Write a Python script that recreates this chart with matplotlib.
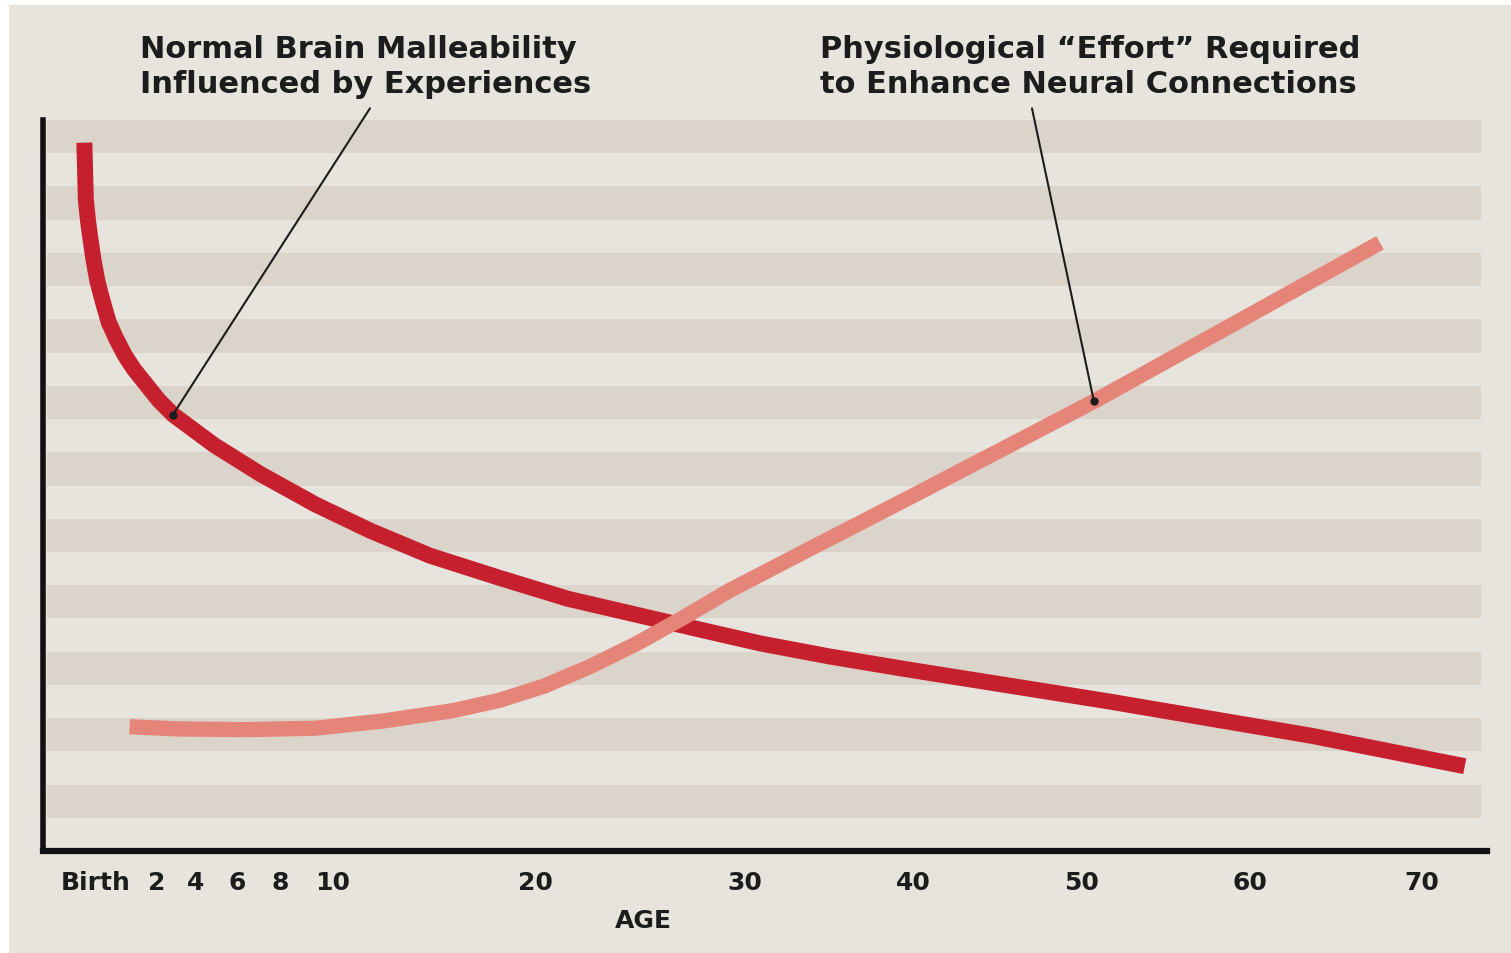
import numpy as np
import matplotlib
matplotlib.use("Agg")
import matplotlib.pyplot as plt
import matplotlib.transforms as mtransforms
from matplotlib.patches import Rectangle

# values (age in years, level on a 0-100 scale)
malleability_age = [0.01, 0.05, 0.115, 0.18, 0.266, 0.37, 0.518, 0.68, 0.88, 1.12, 1.37,
                    2.08, 2.82, 4.9, 7.07, 9.34, 11.86, 14.8, 18.2, 21.57, 24.86,
                    28.14, 30.9, 35.06, 39.5, 51.5, 63.6, 72.5]
malleability_val = [96.9, 89.1, 86.0, 83.6, 80.7, 77.9, 75.1, 72.3, 70.1, 67.8, 65.9,
                    61.7, 59.7, 55.5, 51.6, 47.4, 43.8, 40.4, 37.4, 34.5, 32.3,
                    30.1, 28.4, 26.6, 24.9, 20.5, 15.75, 11.6]

effort_age = [1.25, 3.06, 6.45, 9.34, 12.52, 15.94, 18.22, 20.48, 22.67, 24.86,
              27.05, 29.24, 34.46, 40.0, 50.71, 67.56]
effort_val = [17.0, 16.7, 16.6, 16.8, 17.8, 19.2, 20.6, 22.6, 25.3, 28.4,
              31.9, 35.6, 42.05, 48.6, 61.5, 83.2]

tick_ages = [0, 2, 4, 6, 8, 10, 20, 30, 40, 50, 60, 70]
tick_labels = ["Birth", "2", "4", "6", "8", "10", "20", "30", "40", "50", "60", "70"]

label_left = "Normal Brain Malleability\nInfluenced by Experiences"
label_right = "Physiological \u201cEffort\u201d Required\nto Enhance Neural Connections"

# the age axis of the original is stretched unevenly: piecewise linear scale
scale_ages = [-2.5, 0, 2, 4, 6, 8, 10, 20, 30, 40, 50, 60, 70, 73.8]
scale_pos = [43, 84, 157, 196, 237, 280, 333, 535, 745, 913, 1082, 1250, 1422, 1487]


def fwd(x):
    return np.interp(x, scale_ages, scale_pos)


def inv(p):
    return np.interp(p, scale_pos, scale_ages)


bg = "#e7e4de"
stripe = "#dbd4cb"
red = "#c61f2e"
pink = "#e5857a"
ink = "#1c1c1c"

W, H = 1511, 954
fig = plt.figure(figsize=(W / 100, H / 100), dpi=100, facecolor="white")
fig.patches.append(Rectangle((9 / W, 0), 1 - 9 / W, 1 - 6 / H, transform=fig.transFigure,
                             facecolor=bg, edgecolor="none", zorder=-10))

ax = fig.add_axes([43 / W, (H - 852) / H, (1487 - 43) / W, (852 - 121) / H])
ax.set_facecolor("none")
ax.set_xscale("function", functions=(fwd, inv))
ax.set_xlim(-2.5, 73.8)
ax.set_ylim(0, 100)

# horizontal bands
edges = np.linspace(0, 100, 23)
for k in range(1, 22, 2):
    ax.axhspan(edges[k], edges[k + 1], xmin=0.003, xmax=0.996, color=stripe, lw=0, zorder=0)

ax.plot(malleability_age, malleability_val, color=red, lw=11.5,
        solid_capstyle="butt", solid_joinstyle="round", zorder=2)
ax.plot(effort_age, effort_val, color=pink, lw=11,
        solid_capstyle="butt", solid_joinstyle="round", zorder=3)

# leader lines with dots
ax.annotate("", xy=(malleability_age[12], malleability_val[12]), xytext=(11.83, 101.6),
            arrowprops=dict(arrowstyle="-", lw=1.5, color=ink, shrinkA=0, shrinkB=0),
            annotation_clip=False, zorder=4)
ax.plot(malleability_age[12], malleability_val[12], "o", ms=5, color=ink, zorder=5)
ax.annotate("", xy=(effort_age[14], effort_val[14]), xytext=(47.04, 101.6),
            arrowprops=dict(arrowstyle="-", lw=1.5, color=ink, shrinkA=0, shrinkB=0),
            annotation_clip=False, zorder=4)
ax.plot(effort_age[14], effort_val[14], "o", ms=5, color=ink, zorder=5)

fig.text(140 / W, 1 - 35 / H, label_left, ha="left", va="top", fontsize=22,
         fontweight="bold", color=ink, linespacing=1.28)
fig.text(820 / W, 1 - 35 / H, label_right, ha="left", va="top", fontsize=22,
         fontweight="bold", color=ink, linespacing=1.28)

ax.set_xticks(tick_ages)
ax.set_xticklabels(tick_labels, fontsize=18, fontweight="bold", color=ink)
ax.tick_params(axis="x", length=0, pad=14)
# "Birth" sits a little right of the curve start in the original
birth = ax.get_xticklabels()[0]
birth.set_transform(birth.get_transform() +
                    mtransforms.ScaledTranslation(12 / 100, 0, fig.dpi_scale_trans))
ax.set_yticks([])
ax.set_xlabel("AGE", fontsize=18, fontweight="bold", color=ink)
ax.xaxis.set_label_coords((643 - 43) / 1444, -0.078)

for side in ["top", "right"]:
    ax.spines[side].set_visible(False)
ax.spines["left"].set_linewidth(4)
ax.spines["bottom"].set_linewidth(4.5)
ax.spines["left"].set_color("#111111")
ax.spines["bottom"].set_color("#111111")

fig.savefig("out.png", dpi=100, facecolor="white")
